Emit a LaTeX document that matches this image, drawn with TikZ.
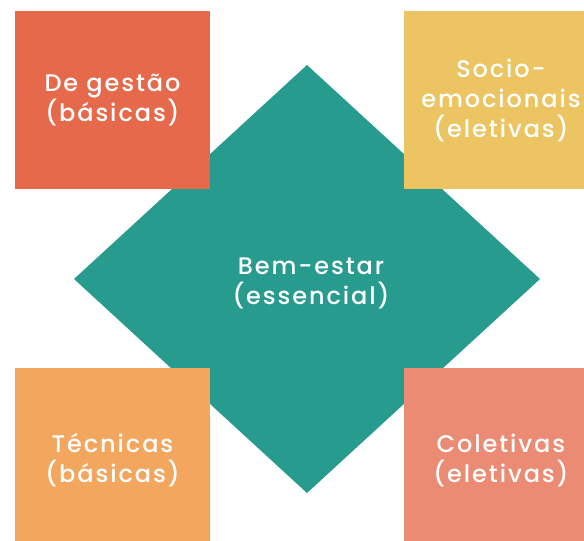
\documentclass[tikz,border=0pt]{standalone}
\usepackage{fontspec}
\setmainfont{Poppins Medium}[LetterSpace=8]
\definecolor{cteal}{RGB}{38,155,142}
\definecolor{cred}{RGB}{229,105,74}
\definecolor{cyellow}{RGB}{236,197,98}
\definecolor{corange}{RGB}{243,166,93}
\definecolor{csalmon}{RGB}{236,139,115}
\tikzset{
  lbl/.style={text=white, align=center, font=\fontsize{24}{30}\selectfont, inner sep=0pt},
  sq/.style={inner sep=0pt, minimum width=195pt, minimum height=178pt}
}
\begin{document}
\begin{tikzpicture}[x=1pt,y=-1pt]
\useasboundingbox (0,0) rectangle (584,541);
\clip (0,0) rectangle (584,541);
\fill[white] (0,0) rectangle (584,541);
\coordinate (dc) at (307,279);
\fill[cteal] (307,65) -- (540,279) -- (307,493) -- (74,279) -- cycle;
\node[sq, fill=cred] (tl) at (112.5,100) {};
\node[sq, fill=cyellow] (tr) at (501.5,100) {};
\node[sq, fill=corange] (bl) at (112.5,457) {};
\node[sq, fill=csalmon] (br) at (501.5,457) {};
\node[lbl] (tltext) at (112.5,100) {De gestão\\(básicas)};
\node[lbl] (trtext) at (501,100) {Socio-\\emocionais\\(eletivas)};
\node[lbl] (bltext) at (112.5,460) {Técnicas\\(básicas)};
\node[lbl] (brtext) at (501,460) {Coletivas\\(eletivas)};
\node[lbl] (ctext) at (311,283) {Bem-estar\\(essencial)};
\end{tikzpicture}
\end{document}
